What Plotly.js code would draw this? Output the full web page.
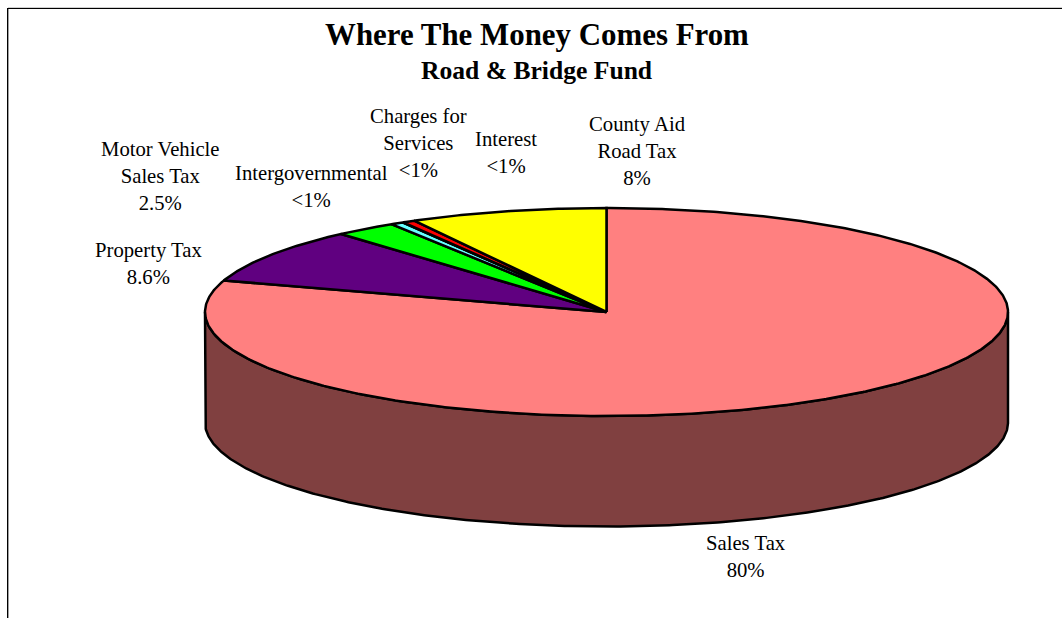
<!DOCTYPE html>
<html><head><meta charset="utf-8">
<script src="https://cdn.plot.ly/plotly-3.0.1.min.js"></script>
<style>html,body{margin:0;padding:0;background:#fff}#c{width:1062px;height:618px}</style>
</head><body><div id="c"></div>
<script>
const categories = ["Sales Tax","Property Tax","Motor Vehicle Sales Tax","Intergovernmental","Charges for Services","Interest","County Aid Road Tax"];
const values = [79.9,8.6,2.5,0.52,0.03,0.5,7.95];
const topColors = ["#FF8080","#600080","#00FF00","#66FFFF","#000080","#FF0000","#FFFF00"];
const sideColors = ["#804040","#300040","#008000","#338080","#000040","#800000","#808000"];

// pie geometry in pixel-like axis units
const cx=606.5, cy=312, rx=401.5, ry=104, depth=110.5, lw=2.5;
const pt=(deg,dy=0)=>[cx+rx*Math.sin(deg*Math.PI/180), cy-ry*Math.cos(deg*Math.PI/180)+dy];
const arc=(a,b,dy=0)=>{const out=[],n=Math.max(2,Math.ceil((b-a)*2));for(let i=0;i<=n;i++)out.push(pt(a+(b-a)*i/n,dy));return out;};
const poly=(pts,fill,name)=>({type:'scatter',mode:'lines',x:pts.map(p=>p[0]),y:pts.map(p=>p[1]),fill:'toself',fillcolor:fill,line:{color:'#000',width:lw,shape:'linear'},name:name,hoverinfo:'name',showlegend:false});

const total=values.reduce((a,b)=>a+b,0);
const traces=[]; const tops=[];
let start=0;
values.forEach((v,i)=>{
  const end=start+v/total*360;
  // visible outer wall: clockwise angle 90..270 is the front
  const a=Math.max(start,90), b=Math.min(end,270);
  if(b>a){ const upper=arc(a,b,0), lower=arc(a,b,depth).reverse();
    traces.push(poly(upper.concat(lower,[upper[0]]),sideColors[i],categories[i]+' side')); }
  tops.push(poly([[cx,cy]].concat(arc(start,end),[[cx,cy]]),topColors[i],categories[i]));
  start=end;
});
traces.push(...tops);

const f=(s)=>({family:'"Liberation Serif","Times New Roman",serif',size:s,color:'#000'});
const label=(text,x,y)=>({text,x,y,xref:'x',yref:'y',showarrow:false,align:'center',xanchor:'center',yanchor:'middle',font:f(20.7)});
const annotations=[
 {text:'<b>Where The Money Comes From</b>',x:536.5,y:34,xref:'x',yref:'y',showarrow:false,xanchor:'center',yanchor:'middle',font:f(30.9)},
 {text:'<b>Road &amp; Bridge Fund</b>',x:536,y:70.5,xref:'x',yref:'y',showarrow:false,xanchor:'center',yanchor:'middle',font:f(25.6)},
 label('Motor Vehicle<br>Sales Tax<br>2.5%',160,175.5),
 label('Property Tax<br>8.6%',148,263.5),
 label('Intergovernmental<br>&lt;1%',311,186.5),
 label('Charges for<br>Services<br>&lt;1%',418,143),
 label('Interest<br>&lt;1%',506,152.5),
 label('County Aid<br>Road Tax<br>8%',637,150.5),
 label('Sales Tax<br>80%',746,556.5)
];
const ln=(x0,y0,x1,y1,c,w)=>({type:'line',xref:'x',yref:'y',x0,y0,x1,y1,line:{color:c,width:w}});
const layout={
  width:1062,height:618,margin:{l:0,r:0,t:0,b:0},paper_bgcolor:'#fff',plot_bgcolor:'#fff',showlegend:false,
  xaxis:{range:[0,1062],visible:false,fixedrange:true},
  yaxis:{range:[618,0],visible:false,fixedrange:true},
  annotations,
  shapes:[ln(8,7.5,1062,7.5,'#d0d0d0',1),ln(8.5,9,8.5,618,'#a0a0a0',1),ln(7,8.5,1062,8.5,'#000',1),ln(7.5,8,7.5,618,'#000',1)]
};
Plotly.newPlot('c',traces,layout,{displayModeBar:false,staticPlot:true});
</script></body></html>
